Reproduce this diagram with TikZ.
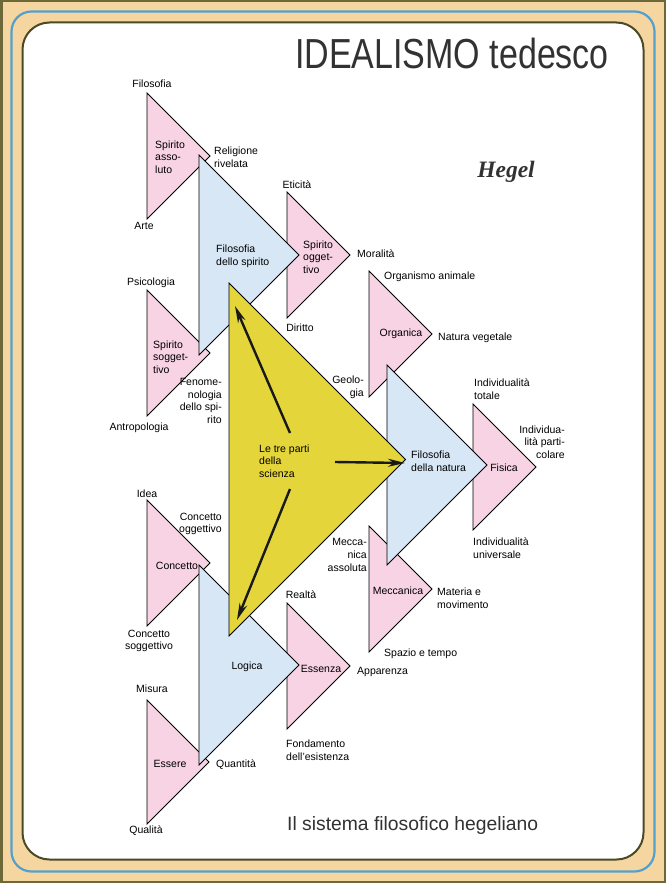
\documentclass[tikz,border=0pt]{standalone}
\usepackage{fontspec}
\setmainfont{Liberation Sans}
\newfontfamily\hegelfont{Liberation Serif}
\newfontfamily\titlefont[FakeStretch=0.81]{Liberation Sans}
\usepackage{tikz}
\usetikzlibrary{arrows.meta}
\definecolor{frameolive}{RGB}{108,104,56}
\definecolor{frametan}{RGB}{245,214,160}
\definecolor{frameblue}{RGB}{84,160,205}
\definecolor{inkdark}{RGB}{50,50,50}
\definecolor{pinkfill}{RGB}{247,211,227}
\definecolor{bluefill}{RGB}{216,231,246}
\definecolor{yellowfill}{RGB}{228,213,58}

% triangle pointing right: [style]{name}{left x}{mid y}{half height}
\newcommand{\hegtri}[5][]{%
  \draw[#1] (#3,{#4-#5}) coordinate (#2-top) -- ({#3+#5},#4) coordinate (#2-tip)
            -- (#3,{#4+#5}) coordinate (#2-bot) -- cycle;}

\begin{document}
\begin{tikzpicture}[
  x=1pt, y=-1pt,
  font=\fontsize{10.5}{12.7}\selectfont,
  pinktri/.style={draw=black, line width=0.8pt, fill=pinkfill, line join=miter},
  bluetri/.style={draw=black, line width=0.8pt, fill=bluefill, line join=miter},
  yellowtri/.style={draw=black, line width=0.8pt, fill=yellowfill, line join=miter},
  lbl/.style={inner sep=0pt, align=left},
  rlbl/.style={inner sep=0pt, align=right},
  ar/.style={-{Stealth[length=17pt,width=8pt]}, line width=2.4pt, draw=black!90}
]
\useasboundingbox (0,0) rectangle (666,883);

% Frame
\fill[frameolive] (0,0) rectangle (666,883);
\fill[frametan] (2.5,2.5) rectangle (663.5,880.5);
\draw[frameblue, line width=2.2pt, rounded corners=20pt] (11.5,11.5) rectangle (654.5,871.5);
\draw[draw=frameolive!70!black, fill=white, line width=2pt, rounded corners=27pt] (22.5,22.5) rectangle (643.5,859.5);

% Pink triangles (the nine sub-parts)
\hegtri[pinktri]{assoluto}{147}{156}{63}
\hegtri[pinktri]{oggettivo}{287}{255}{63}
\hegtri[pinktri]{soggettivo}{147}{353}{63}
\hegtri[pinktri]{organica}{369}{334}{63}
\hegtri[pinktri]{fisica}{473}{467}{63}
\hegtri[pinktri]{meccanica}{369}{589}{63}
\hegtri[pinktri]{concetto}{147}{563}{63}
\hegtri[pinktri]{essenza}{287}{666}{63}
\hegtri[pinktri]{essere}{147}{762}{62}

% Blue triangles (the three parts)
\hegtri[bluetri]{spirito}{199}{255}{100}
\hegtri[bluetri]{natura}{387}{465}{100}
\hegtri[bluetri]{logica}{199}{665}{100}

% Yellow triangle (the whole)
\hegtri[yellowtri]{scienza}{229}{459.5}{176.5}

% Arrows inside the yellow triangle
\coordinate (upS)  at (290,433);
\coordinate (upE)  at (235,306);
\coordinate (midS) at (335,462);
\coordinate (midE) at (405,463);
\coordinate (lowS) at (290,489);
\coordinate (lowE) at (237,620);
\draw[ar] (upS) -- (upE);
\draw[ar] (midS) -- (midE);
\draw[ar] (lowS) -- (lowE);

% Titles
\node[inner sep=0pt, text=inkdark, font=\titlefont\fontsize{42}{42}\selectfont] (title) at (452,53) {IDEALISMO tedesco};
\node[inner sep=0pt, anchor=base, text=inkdark, font=\hegelfont\bfseries\itshape\fontsize{23.5}{23.5}\selectfont] (hegel) at (506,177) {Hegel};
\node[inner sep=0pt, anchor=base west, text=inkdark, font=\fontsize{19.3}{19.3}\selectfont] (footer) at (287,830) {Il sistema filosofico hegeliano};

% Spirito
\node[lbl] (lfil)   at (152,84)  {Filosofia};
\node[lbl, anchor=west] (lass) at (155,157) {Spirito\\asso-\\luto};
\node[lbl, anchor=west] (lrel) at (214,157) {Religione\\rivelata};
\node[lbl] (larte)  at (144,226) {Arte};
\node[lbl] (letic)  at (297,185) {Eticità};
\node[lbl, anchor=west] (lspir) at (216,256) {Filosofia\\dello spirito};
\node[lbl, anchor=west] (logg)  at (303,257) {Spirito\\ogget-\\tivo};
\node[lbl, anchor=west] (lmor)  at (357,254) {Moralità};
\node[lbl] (lpsi)   at (151,283) {Psicologia};
\node[lbl] (ldir)   at (300,328) {Diritto};
\node[lbl, anchor=west] (lsog)  at (153,357) {Spirito\\sogget-\\tivo};
\node[rlbl, anchor=east] (lfen) at (222,401) {Fenome-\\nologia\\dello spi-\\rito};
\node[lbl] (lantr)  at (139,428) {Antropologia};

% Natura
\node[lbl, anchor=west] (lorgan) at (384,277) {Organismo animale};
\node[lbl] (lorg)   at (401,334) {Organica};
\node[lbl, anchor=west] (lveg)  at (438,338) {Natura vegetale};
\node[rlbl, anchor=east] (lgeo) at (364,387) {Geolo-\\gia};
\node[lbl, anchor=west] (ltot)  at (474,389) {Individualità\\totale};
\node[lbl, anchor=west] (lsci)  at (259,461) {Le tre parti\\della\\scienza};
\node[lbl, anchor=west] (lnat)  at (411,461) {Filosofia\\della natura};
\node[lbl] (lfis)   at (504,468) {Fisica};
\node[rlbl, anchor=east] (lpart) at (565,442) {Individua-\\lità parti-\\colare};
\node[lbl, anchor=west] (luniv) at (473,548) {Individualità\\universale};
\node[rlbl, anchor=east] (lmass) at (367,555) {Mecca-\\nica\\assoluta};
\node[lbl] (lmecc)  at (398,591) {Meccanica};
\node[lbl, anchor=west] (lmat)  at (437,598) {Materia e\\movimento};
\node[lbl, anchor=west] (lspaz) at (384,654) {Spazio e tempo};

% Logica
\node[lbl] (lidea)  at (147,494) {Idea};
\node[rlbl, anchor=east] (lcogg) at (222,524) {Concetto\\oggettivo};
\node[lbl] (lconc)  at (177,566) {Concetto};
\node[lbl, align=center] (lcsog) at (149,641) {Concetto\\soggettivo};
\node[lbl] (lreal)  at (301,595) {Realtà};
\node[lbl] (llog)   at (247,667) {Logica};
\node[lbl] (less)   at (321,669) {Essenza};
\node[lbl, anchor=west] (lapp)  at (357,672) {Apparenza};
\node[lbl] (lmis)   at (152,689) {Misura};
\node[lbl, anchor=west] (lfond) at (286,750) {Fondamento\\dell'esistenza};
\node[lbl] (lesse)  at (170,764) {Essere};
\node[lbl, anchor=west] (lquan) at (216,765) {Quantità};
\node[lbl] (lqual)  at (146,831) {Qualità};
\end{tikzpicture}
\end{document}
